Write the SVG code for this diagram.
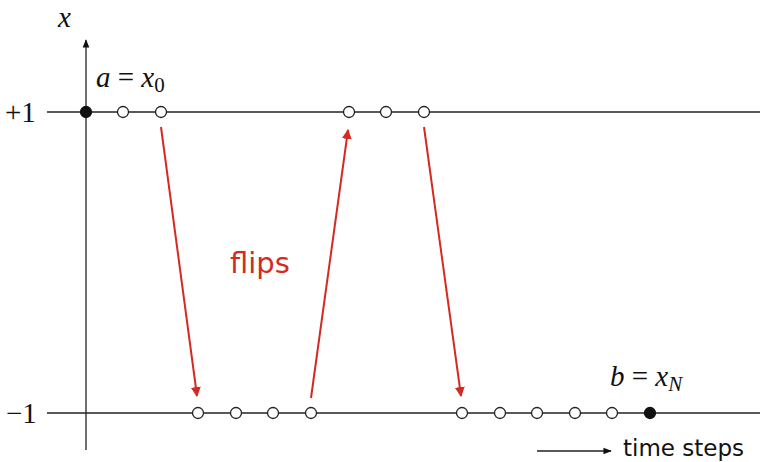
<svg xmlns="http://www.w3.org/2000/svg" width="760" height="462" viewBox="0 0 760 462">
<defs>
<style>
.ax{stroke:#333;stroke-width:1.4;fill:none}
.ln{stroke:#222;stroke-width:1.4;fill:none}
.op{fill:#fff;stroke:#222;stroke-width:1.3}
.fl{fill:#111;stroke:#111;stroke-width:1.3}
.fl2{stroke:#d42a22;stroke-width:2;fill:none}
.m{font-family:"Liberation Serif",serif;font-size:29px;fill:#111}
.mi{font-family:"Liberation Serif",serif;font-style:italic;font-size:29px;fill:#111}
.s{font-family:"DejaVu Sans","Liberation Sans",sans-serif;fill:#111}
</style>
<marker id="ah" viewBox="0 0 10 10" refX="9" refY="5" markerWidth="5" markerHeight="5" orient="auto" markerUnits="strokeWidth">
<path d="M0,0 L10,5 L0,10 Z" fill="#d42a22"/>
</marker>
<marker id="ak" viewBox="0 0 10 10" refX="9" refY="5" markerWidth="6" markerHeight="6" orient="auto" markerUnits="strokeWidth">
<path d="M0,1 L10,5 L0,9 Z" fill="#111"/>
</marker>
</defs>
<g id="axes">
<line class="ax" x1="86" y1="450" x2="86" y2="40" marker-end="url(#ak)"/>
<line class="ln" x1="47" y1="112" x2="760" y2="112"/>
<line class="ln" x1="47" y1="413" x2="760" y2="413"/>
<line class="ln" x1="537" y1="451" x2="611" y2="451" marker-end="url(#ak)"/>
</g>
<g id="labels">
<text class="mi" x="58" y="27">x</text>
<text class="m" x="5" y="122">+1</text>
<text class="m" x="6" y="423">−1</text>
<text class="mi" x="96" y="87">a <tspan font-style="normal">=</tspan> x<tspan font-style="normal" font-size="21" dy="5">0</tspan></text>
<text class="mi" x="610" y="386">b <tspan font-style="normal">=</tspan> x<tspan font-size="21" dy="5">N</tspan></text>
<text class="s" x="623" y="456" font-size="23">time steps</text>
<text class="s" x="230" y="273" font-size="29" style="fill:#d42a22">flips</text>
</g>
<g id="connectors">
<line class="fl2" x1="161" y1="127" x2="197" y2="396" marker-end="url(#ah)"/>
<line class="fl2" x1="311" y1="398" x2="348" y2="130" marker-end="url(#ah)"/>
<line class="fl2" x1="424" y1="127" x2="461" y2="396" marker-end="url(#ah)"/>
</g>
<g id="top-states">
<circle class="fl" cx="86" cy="112" r="5.5"/>
<circle class="op" cx="123" cy="112" r="5.5"/>
<circle class="op" cx="161" cy="112" r="5.5"/>
<circle class="op" cx="349" cy="112" r="5.5"/>
<circle class="op" cx="386" cy="112" r="5.5"/>
<circle class="op" cx="424" cy="112" r="5.5"/>
</g>
<g id="bottom-states">
<circle class="op" cx="198" cy="413" r="5.5"/>
<circle class="op" cx="236" cy="413" r="5.5"/>
<circle class="op" cx="273" cy="413" r="5.5"/>
<circle class="op" cx="311" cy="413" r="5.5"/>
<circle class="op" cx="462" cy="413" r="5.5"/>
<circle class="op" cx="500" cy="413" r="5.5"/>
<circle class="op" cx="537" cy="413" r="5.5"/>
<circle class="op" cx="575" cy="413" r="5.5"/>
<circle class="op" cx="612" cy="413" r="5.5"/>
<circle class="fl" cx="650" cy="413" r="5.5"/>
</g>
</svg>
